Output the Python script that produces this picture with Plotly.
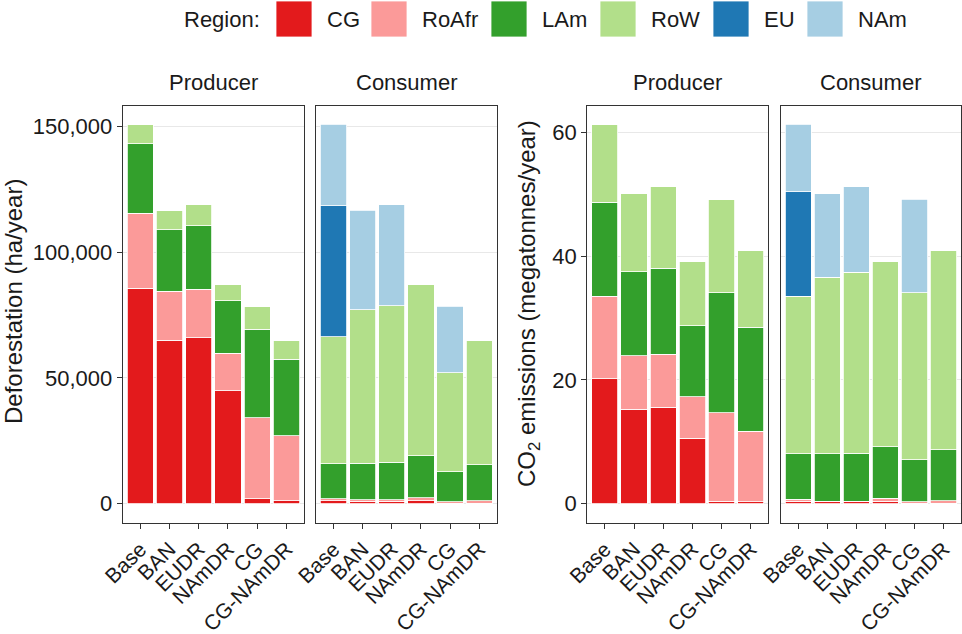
import plotly.graph_objects as go

# Scenarios and regions
scenarios = ["Base", "BAN", "EUDR", "NAmDR", "CG", "CG-NAmDR"]
regions = ["CG", "RoAfr", "LAm", "RoW", "EU", "NAm"]
region_colors = ["#E31A1C", "#FB9A99", "#33A02C", "#B2DF8A", "#1F78B4", "#A6CEE3"]

# Deforestation (ha/year), producer-based attribution
defor_prod_CG = [85600, 65100, 65900, 45000, 2000, 1100]
defor_prod_RoAfr = [29900, 19300, 19400, 14900, 32100, 26000]
defor_prod_LAm = [27600, 24600, 25300, 20900, 35300, 30400]
defor_prod_RoW = [7700, 7700, 8200, 6400, 9200, 7600]
defor_prod_EU = [0, 0, 0, 0, 0, 0]
defor_prod_NAm = [0, 0, 0, 0, 0, 0]

# Deforestation (ha/year), consumer-based attribution
defor_cons_CG = [1100, 1000, 1000, 1200, 100, 200]
defor_cons_RoAfr = [800, 500, 500, 1200, 600, 1000]
defor_cons_LAm = [14000, 14600, 14900, 16600, 12100, 14300]
defor_cons_RoW = [50500, 61100, 62300, 68200, 39300, 49600]
defor_cons_EU = [52100, 0, 0, 0, 0, 0]
defor_cons_NAm = [32300, 39500, 40100, 0, 26500, 0]

# CO2 emissions (megatonnes/year), producer-based attribution
co2_prod_CG = [20.2, 15.3, 15.6, 10.6, 0.4, 0.3]
co2_prod_RoAfr = [13.3, 8.6, 8.6, 6.7, 14.3, 11.4]
co2_prod_LAm = [15.2, 13.6, 13.9, 11.5, 19.4, 16.8]
co2_prod_RoW = [12.6, 12.6, 13.1, 10.3, 15.1, 12.4]
co2_prod_EU = [0, 0, 0, 0, 0, 0]
co2_prod_NAm = [0, 0, 0, 0, 0, 0]

# CO2 emissions (megatonnes/year), consumer-based attribution
co2_cons_CG = [0.4, 0.3, 0.3, 0.4, 0.05, 0.1]
co2_cons_RoAfr = [0.3, 0.1, 0.1, 0.5, 0.25, 0.4]
co2_cons_LAm = [7.4, 7.7, 7.8, 8.3, 6.8, 8.2]
co2_cons_RoW = [25.4, 28.5, 29.2, 29.9, 27.0, 32.2]
co2_cons_EU = [16.9, 0, 0, 0, 0, 0]
co2_cons_NAm = [10.9, 13.5, 13.8, 0, 15.1, 0]

panels = [
    ("Producer", [defor_prod_CG, defor_prod_RoAfr, defor_prod_LAm, defor_prod_RoW, defor_prod_EU, defor_prod_NAm]),
    ("Consumer", [defor_cons_CG, defor_cons_RoAfr, defor_cons_LAm, defor_cons_RoW, defor_cons_EU, defor_cons_NAm]),
    ("Producer", [co2_prod_CG, co2_prod_RoAfr, co2_prod_LAm, co2_prod_RoW, co2_prod_EU, co2_prod_NAm]),
    ("Consumer", [co2_cons_CG, co2_cons_RoAfr, co2_cons_LAm, co2_cons_RoW, co2_cons_EU, co2_cons_NAm]),
]

W, H = 962, 634
FONT = "Liberation Sans, Arial, Helvetica, sans-serif"
TXT = "#1A1A1A"
BORDER = "#333333"

def fx(px):
    return px / W

def fy(py):
    return 1 - py / H

# panel pixel boxes (left, right)
panel_x = [(122.7, 304.0), (316.0, 496.7), (587.3, 768.3), (780.7, 961.0)]
panel_top, panel_bot = 105.5, 522.7

fig = go.Figure()
layout = dict(
    template="none",
    width=W, height=H, margin=dict(l=0, r=0, t=0, b=0, autoexpand=False),
    paper_bgcolor="white", plot_bgcolor="white",
    barmode="stack", bargap=0.1, showlegend=False,
    font=dict(family=FONT, color=TXT, size=22),
)

annotations = []
shapes = []

for i, (strip, series) in enumerate(panels):
    n = i + 1
    xa = "x" if n == 1 else f"x{n}"
    ya = "y" if n == 1 else f"y{n}"
    for name, col, vals in zip(regions, region_colors, series):
        fig.add_trace(go.Bar(
            x=scenarios, y=vals, name=name, xaxis=xa, yaxis=ya,
            marker=dict(color=col, line=dict(color="white", width=0.8)),
            width=0.9, showlegend=False,
        ))
    left, right = panel_x[i]
    deforest = i < 2
    layout[f"xaxis{'' if n == 1 else n}"] = dict(
        domain=[fx(left), fx(right)], anchor=ya, automargin=False,
        range=[-0.6, 5.6], type="category", categoryorder="array", categoryarray=scenarios,
        showline=True, linecolor=BORDER, linewidth=1.1, mirror=True,
        ticks="outside", ticklen=5, tickwidth=1.1, tickcolor=BORDER,
        tickangle=-45, tickfont=dict(size=21, color=TXT, family=FONT),
        showgrid=False, zeroline=False, fixedrange=True,
    )
    ymax = 158340 if deforest else 64.365
    ymin = -7540 if deforest else -3.065
    first = i in (0, 2)
    layout[f"yaxis{'' if n == 1 else n}"] = dict(
        domain=[fy(panel_bot), fy(panel_top)], anchor=xa, automargin=False,
        range=[ymin, ymax], dtick=50000 if deforest else 20, tick0=0,
        tickformat="," if deforest else "d",
        showline=True, linecolor=BORDER, linewidth=1.1, mirror=True,
        ticks="outside" if first else "", ticklen=5, tickwidth=1.1, tickcolor=BORDER,
        showticklabels=first, tickfont=dict(size=22, color=TXT, family=FONT),
        showgrid=True, gridcolor="#E8E8E8", gridwidth=1.3, zeroline=False, fixedrange=True,
    )
    annotations.append(dict(
        text=strip, x=fx((left + right) / 2), y=fy(83), xref="paper", yref="paper",
        xanchor="center", yanchor="middle", showarrow=False,
        font=dict(size=22, color=TXT, family=FONT),
    ))

# axis titles
annotations.append(dict(
    text="Deforestation (ha/year)", x=fx(14), y=fy(302), xref="paper", yref="paper",
    xanchor="center", yanchor="middle", textangle=-90, showarrow=False,
    font=dict(size=24, color=TXT, family=FONT),
))
annotations.append(dict(
    text="CO<sub>2</sub> emissions (megatonnes/year)", x=fx(528), y=fy(304), xref="paper", yref="paper",
    xanchor="center", yanchor="middle", textangle=-90, showarrow=False,
    font=dict(size=24, color=TXT, family=FONT),
))

# legend row across the top
annotations.append(dict(
    text="Region:", x=fx(262), y=fy(19), xref="paper", yref="paper",
    xanchor="right", yanchor="middle", showarrow=False,
    font=dict(size=22, color=TXT, family=FONT),
))
key_left = [276, 371, 491, 600, 713, 807]
for name, col, kx in zip(regions, region_colors, key_left):
    shapes.append(dict(
        type="rect", xref="paper", yref="paper",
        x0=fx(kx), x1=fx(kx + 36), y0=fy(37), y1=fy(1),
        fillcolor=col, line=dict(color="white", width=0.8),
    ))
    annotations.append(dict(
        text=name, x=fx(kx + 49), y=fy(19), xref="paper", yref="paper",
        xanchor="left", yanchor="middle", showarrow=False,
        font=dict(size=22, color=TXT, family=FONT),
    ))

layout["annotations"] = annotations
layout["shapes"] = shapes
fig.update_layout(**layout)
fig.write_html("out.html")
